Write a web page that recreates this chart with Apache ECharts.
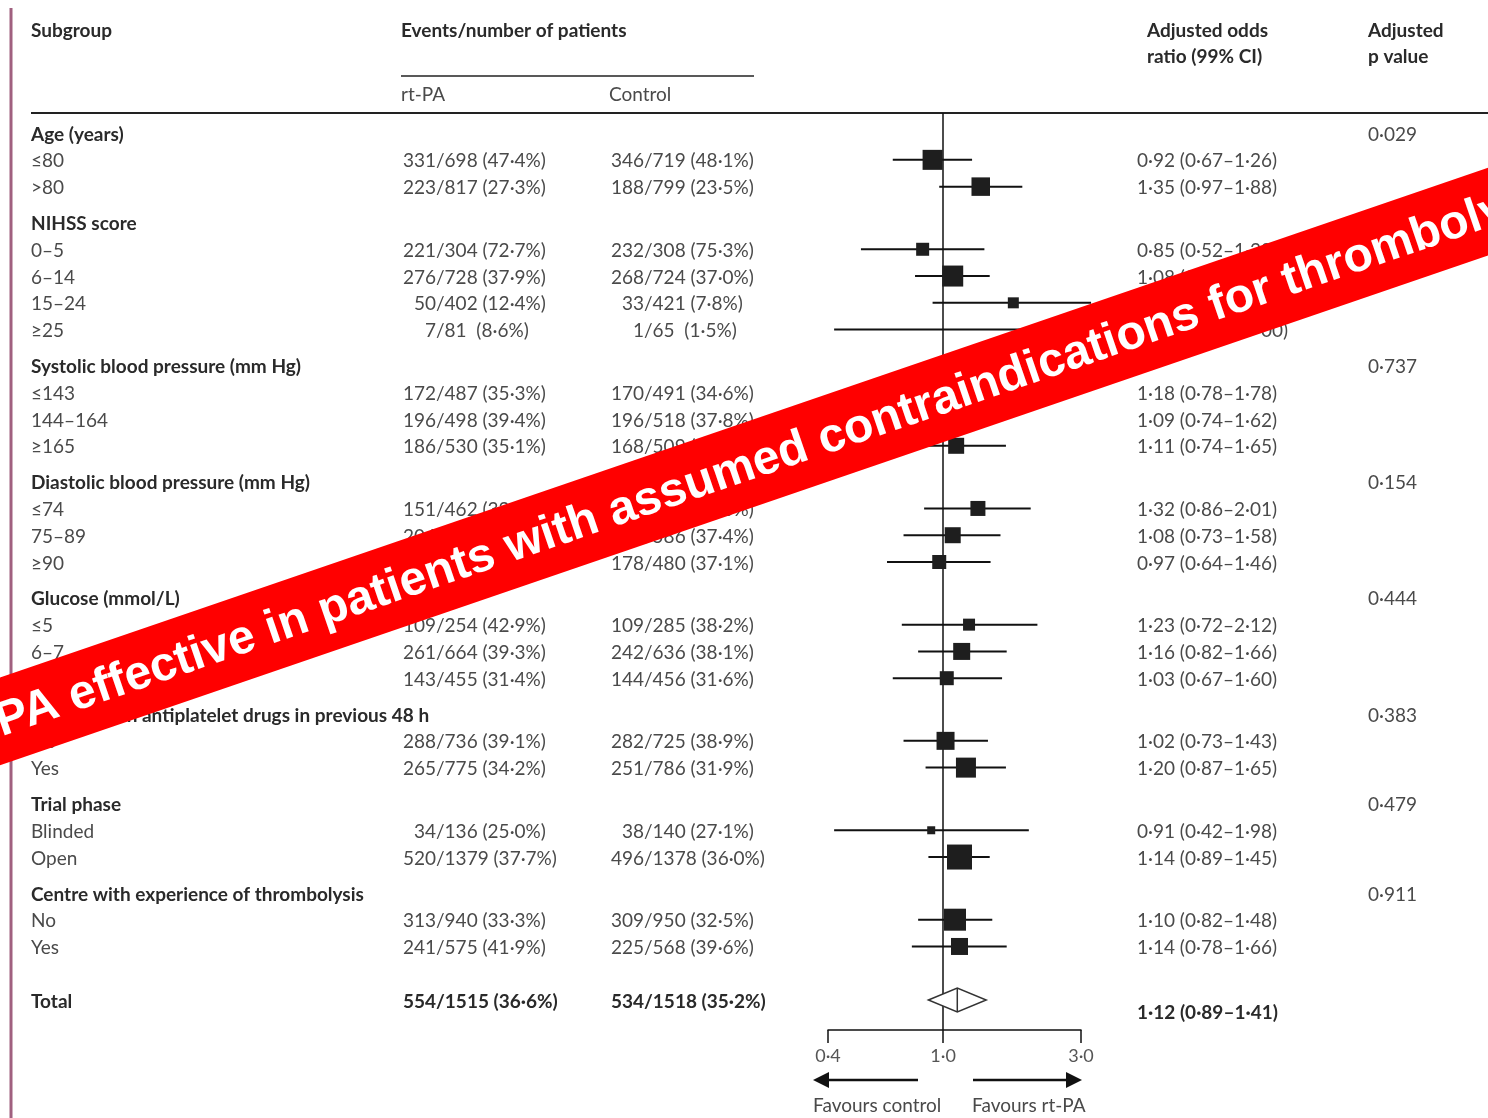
<!DOCTYPE html>
<html lang="en">
<head>
<meta charset="UTF-8">
<title>Subgroup forest plot</title>
<script src="https://cdn.jsdelivr.net/npm/echarts@6/dist/echarts.min.js"></script>
<style>
    html, body { margin: 0; background: #fff; }
    #chart { width: 1488px; height: 1118px; }
</style>
</head>
<body>
<div id="chart"></div>
<script>
    // ---- data ----
    const groups = ['Age (years)', 'NIHSS score', 'Systolic blood pressure (mm Hg)', 'Diastolic blood pressure (mm Hg)',
        'Glucose (mmol/L)', 'Treated with antiplatelet drugs in previous 48 h', 'Trial phase', 'Centre with experience of thrombolysis'];
    const groupP = ['0·029', '0·003', '0·737', '0·154', '0·444', '0·383', '0·479', '0·911'];
    const subgroups = [['≤80', '>80'], ['0–5', '6–14', '15–24', '≥25'], ['≤143', '144–164', '≥165'], ['≤74', '75–89', '≥90'],
        ['≤5', '6–7', '>7'], ['No', 'Yes'], ['Blinded', 'Open'], ['No', 'Yes']];
    const rtpaEvents = [
        ['331/698 (47·4%)', '223/817 (27·3%)'],
        ['221/304 (72·7%)', '276/728 (37·9%)', '50/402 (12·4%)', '7/81  (8·6%)'],
        ['172/487 (35·3%)', '196/498 (39·4%)', '186/530 (35·1%)'],
        ['151/462 (32·7%)', '204/561 (36·4%)', '199/492 (40·4%)'],
        ['109/254 (42·9%)', '261/664 (39·3%)', '143/455 (31·4%)'],
        ['288/736 (39·1%)', '265/775 (34·2%)'],
        ['34/136 (25·0%)', '520/1379 (37·7%)'],
        ['313/940 (33·3%)', '241/575 (41·9%)']
    ];
    const controlEvents = [
        ['346/719 (48·1%)', '188/799 (23·5%)'],
        ['232/308 (75·3%)', '268/724 (37·0%)', '33/421 (7·8%)', '1/65  (1·5%)'],
        ['170/491 (34·6%)', '196/518 (37·8%)', '168/509 (33·0%)'],
        ['137/452 (30·3%)', '219/586 (37·4%)', '178/480 (37·1%)'],
        ['109/285 (38·2%)', '242/636 (38·1%)', '144/456 (31·6%)'],
        ['282/725 (38·9%)', '251/786 (31·9%)'],
        ['38/140 (27·1%)', '496/1378 (36·0%)'],
        ['309/950 (32·5%)', '225/568 (39·6%)']
    ];
    const oddsRatio = [[0.92, 1.35], [0.85, 1.08, 1.75, 3.50], [1.18, 1.09, 1.11], [1.32, 1.08, 0.97],
        [1.23, 1.16, 1.03], [1.02, 1.20], [0.91, 1.14], [1.10, 1.14]];
    const ciLow = [[0.67, 0.97], [0.52, 0.80, 0.92, 0.42], [0.78, 0.74, 0.74], [0.86, 0.73, 0.64],
        [0.72, 0.82, 0.67], [0.73, 0.87], [0.42, 0.89], [0.82, 0.78]];
    const ciHigh = [[1.26, 1.88], [1.39, 1.45, 3.33, 29.00], [1.78, 1.62, 1.65], [2.01, 1.58, 1.46],
        [2.12, 1.66, 1.60], [1.43, 1.65], [1.98, 1.45], [1.48, 1.66]];
    // relative weight of each subgroup (box size)
    const boxWeight = [[0.80, 0.74], [0.52, 0.84, 0.44, 0.28], [0.68, 0.68, 0.64], [0.60, 0.64, 0.56],
        [0.48, 0.68, 0.56], [0.72, 0.80], [0.32, 1.00], [0.88, 0.68]];
    const totalEvents = ['554/1515 (36·6%)', '534/1518 (35·2%)'];
    const totalOR = [1.12, 0.89, 1.41];
    const axisTicks = [0.4, 1, 3];

    // ---- layout ----
    const FONT = 'Lato, "Open Sans", sans-serif';
    const TXT = '#4a4a4a', HEAD = '#2a2a2a';
    const LABEL_X = 31, RT_SLASH = 436, CTRL_SLASH = 644, OR_X = 1137, P_X = 1368;
    const MAX_BOX = 25, CLIP_HI = 3.25, TEXT_DY = 1.5;

    // row positions in row units (headers get a bit more room)
    const rows = [];
    let yPos = 0;
    groups.forEach(function (g, gi) {
        if (gi > 0) yPos += 1.34;
        rows.push({kind: 'head', label: g, p: groupP[gi], y: yPos});
        subgroups[gi].forEach(function (s, si) {
            yPos += 1;
            rows.push({kind: 'item', label: s, rt: rtpaEvents[gi][si], ctrl: controlEvents[gi][si],
                or: oddsRatio[gi][si], lo: ciLow[gi][si], hi: ciHigh[gi][si], w: boxWeight[gi][si], y: yPos});
        });
    });
    yPos += 2;
    rows.push({kind: 'total', label: 'Total', rt: totalEvents[0], ctrl: totalEvents[1],
        or: totalOR[0], lo: totalOR[1], hi: totalOR[2], y: yPos});

    const items = rows.filter(function (r) { return r.kind === 'item'; });
    const fmt = function (v) { return v.toFixed(2).replace('.', '·'); };

    function txt(x, y, text, bold, align) {
        return {
            type: 'text', x: x, y: y,
            style: {
                text: text, fill: bold ? HEAD : TXT,
                font: (bold ? 'bold ' : '') + '19px ' + FONT,
                textAlign: align || 'left', textVerticalAlign: 'middle'
            }
        };
    }

    function eventsText(slashX, py, s, bold) {
        let k = s.indexOf('/');
        return [txt(slashX, py, s.slice(0, k), bold, 'right'), txt(slashX, py, s.slice(k), bold, 'left')];
    }

    let myChart = echarts.init(document.getElementById('chart'));
    let option = {
        animation: false,
        grid: {left: 828, width: 253, top: 113, height: 917},
        xAxis: {
            type: 'log', min: 0.4, max: 3,
            splitLine: {show: false},
            axisLine: {onZero: false, lineStyle: {color: '#111', width: 1.5}},
            axisTick: {show: true, customValues: axisTicks, length: 13, inside: false, lineStyle: {color: '#111', width: 1.5}},
            axisLabel: {
                customValues: axisTicks, margin: 17, color: '#555', fontSize: 18, fontFamily: FONT,
                formatter: function (v) { return (+v).toFixed(1).replace('.', '·'); }
            }
        },
        yAxis: {type: 'value', inverse: true, min: -0.75, max: 33.5, show: false},
        series: [
            {
                // table text
                type: 'custom', clip: false, silent: true,
                data: rows.map(function (r) { return [1, r.y]; }),
                renderItem: function (params, api) {
                    let r = rows[params.dataIndex];
                    let py = api.coord([1, r.y])[1] + TEXT_DY;
                    let bold = r.kind !== 'item';
                    let ch = [txt(LABEL_X, py, r.label, bold)];
                    if (r.kind === 'head') {
                        ch.push(txt(P_X, py, r.p, false));
                    } else {
                        ch = ch.concat(eventsText(RT_SLASH, py, r.rt, bold), eventsText(CTRL_SLASH, py, r.ctrl, bold));
                        let oy = r.kind === 'total' ? py + 11 : py;
                        ch.push(txt(OR_X, oy, fmt(r.or) + ' (' + fmt(r.lo) + '–' + fmt(r.hi) + ')', bold));
                    }
                    return {type: 'group', children: ch};
                }
            },
            {
                // subgroup estimates
                type: 'custom', clip: false, silent: true, z: 5,
                data: items.map(function (r) { return [r.or, r.y, r.lo, r.hi, r.w]; }),
                renderItem: function (params, api) {
                    let y = api.value(1);
                    let c = api.coord([api.value(0), y]);
                    let a = api.coord([api.value(2), y]);
                    let b = api.coord([Math.min(api.value(3), CLIP_HI), y]);
                    let s = api.value(4) * MAX_BOX;
                    return {
                        type: 'group', children: [
                            {type: 'line', shape: {x1: a[0], y1: c[1], x2: b[0], y2: c[1]}, style: {stroke: '#111', lineWidth: 2}},
                            {type: 'rect', shape: {x: c[0] - s / 2, y: c[1] - s / 2, width: s, height: s}, style: {fill: '#1e1e1e'}}
                        ]
                    };
                },
                markLine: {
                    silent: true, symbol: 'none', label: {show: false},
                    lineStyle: {color: '#111', width: 1.5, type: 'solid'},
                    data: [{xAxis: 1}]
                }
            },
            {
                // overall estimate diamond
                type: 'custom', clip: false, silent: true, z: 6,
                data: [[totalOR[0], rows[rows.length - 1].y, totalOR[1], totalOR[2]]],
                renderItem: function (params, api) {
                    let y = api.value(1);
                    let c = api.coord([api.value(0), y]);
                    let a = api.coord([api.value(2), y]);
                    let b = api.coord([api.value(3), y]);
                    let h = 12;
                    return {
                        type: 'group', children: [
                            {type: 'polygon', shape: {points: [[a[0], c[1]], [c[0], c[1] - h], [b[0], c[1]], [c[0], c[1] + h]]},
                                style: {fill: '#fff', stroke: '#333', lineWidth: 1.5}},
                            {type: 'line', shape: {x1: c[0], y1: c[1] - h, x2: c[0], y2: c[1] + h}, style: {stroke: '#333', lineWidth: 1.5}}
                        ]
                    };
                }
            }
        ],
        graphic: [
            {type: 'line', shape: {x1: 11, y1: 8, x2: 11, y2: 1118}, style: {stroke: '#a0607f', lineWidth: 3}},
            {type: 'line', shape: {x1: 401, y1: 76, x2: 754, y2: 76}, style: {stroke: '#222', lineWidth: 1.5}},
            {type: 'line', shape: {x1: 31, y1: 113, x2: 1488, y2: 113}, style: {stroke: '#222', lineWidth: 2}},
            txt(31, 31, 'Subgroup', true),
            txt(401, 31, 'Events/number of patients', true),
            txt(401, 95, 'rt-PA', false),
            txt(609, 95, 'Control', false),
            txt(1147, 31, 'Adjusted odds', true),
            txt(1147, 57, 'ratio (99% CI)', true),
            txt(1368, 31, 'Adjusted', true),
            txt(1368, 57, 'p value', true),
            {type: 'line', shape: {x1: 918, y1: 1080, x2: 826, y2: 1080}, style: {stroke: '#111', lineWidth: 2.5}},
            {type: 'polygon', shape: {points: [[813, 1080], [829, 1072], [829, 1088]]}, style: {fill: '#111'}},
            {type: 'line', shape: {x1: 973, y1: 1080, x2: 1068, y2: 1080}, style: {stroke: '#111', lineWidth: 2.5}},
            {type: 'polygon', shape: {points: [[1082, 1080], [1066, 1072], [1066, 1088]]}, style: {fill: '#111'}},
            txt(813, 1106, 'Favours control', false),
            txt(972, 1106, 'Favours rt-PA', false),
            {
                // overlay banner, on its own layer above the chart
                type: 'group', x: 744, y: 467, rotation: 0.33, zlevel: 10, z: 100,
                children: [
                    {type: 'rect', zlevel: 10, shape: {x: -1200, y: -42, width: 2400, height: 83}, style: {fill: '#ff0000'}},
                    {
                        type: 'text', zlevel: 10, z: 101, x: -840, y: 1,
                        style: {
                            text: 'rt-PA effective in patients with assumed contraindications for thrombolysis',
                            fill: '#fff', font: 'bold 48px "Liberation Sans", Arial, sans-serif',
                            textAlign: 'left', textVerticalAlign: 'middle'
                        }
                    }
                ]
            }
        ]
    };
    myChart.setOption(option);
</script>
</body>
</html>
